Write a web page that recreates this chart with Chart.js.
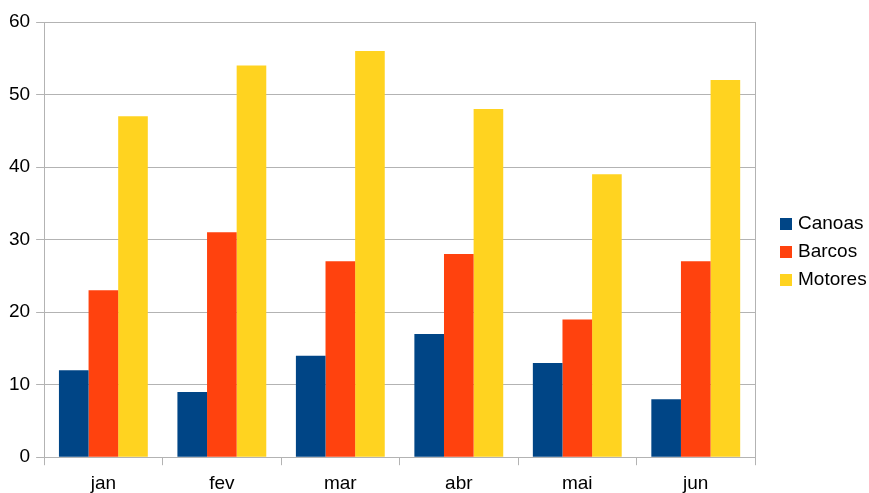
<!DOCTYPE html>
<html lang="pt">
<head>
<meta charset="UTF-8">
<title>Canoas, Barcos, Motores</title>
<script src="https://cdn.jsdelivr.net/npm/chart.js"></script>
<style>
    html, body { margin: 0; padding: 0; background: #fff; }
    #wrap { width: 869px; height: 493px; }
</style>
</head>
<body>
<div id="wrap"><canvas id="chart" width="869" height="493"></canvas></div>
<script>
const months = ['jan', 'fev', 'mar', 'abr', 'mai', 'jun'];
const canoas = [12, 9, 14, 17, 13, 8];
const barcos = [23, 31, 27, 28, 19, 27];
const motores = [47, 54, 56, 48, 39, 52];

const gridColor = '#b3b3b3';
const fontFamily = '"Liberation Sans", Arial, sans-serif';
const font = { family: fontFamily, size: 19 };

// right-hand frame line of the plot area + legend drawn to the right of it
const frameAndLegend = {
    id: 'frameAndLegend',
    afterDraw(chart) {
        const { ctx, chartArea } = chart;
        ctx.save();
        ctx.strokeStyle = gridColor;
        ctx.lineWidth = 1;
        ctx.beginPath();
        ctx.moveTo(Math.round(chartArea.right) + 0.5, chartArea.top);
        ctx.lineTo(Math.round(chartArea.right) + 0.5, chartArea.bottom);
        ctx.stroke();

        // legend
        const x = chartArea.right + 25;
        const rowH = 28;
        const sets = chart.data.datasets;
        let y = (chartArea.top + chartArea.bottom) / 2 - rowH * (sets.length - 1) / 2 + 12;
        ctx.font = '19px ' + fontFamily;
        ctx.textBaseline = 'middle';
        ctx.textAlign = 'left';
        sets.forEach(ds => {
            ctx.fillStyle = ds.backgroundColor;
            ctx.fillRect(x, Math.round(y - 6), 12, 12);
            ctx.fillStyle = '#000';
            ctx.fillText(ds.label, x + 18, y);
            y += rowH;
        });
        ctx.restore();
    }
};

new Chart(document.getElementById('chart'), {
    type: 'bar',
    data: {
        labels: months,
        datasets: [
            { label: 'Canoas', data: canoas, backgroundColor: '#004586' },
            { label: 'Barcos', data: barcos, backgroundColor: '#ff420e' },
            { label: 'Motores', data: motores, backgroundColor: '#ffd320' }
        ]
    },
    options: {
        responsive: false,
        animation: false,
        layout: { padding: { left: 3, right: 114, top: 22, bottom: -9 } },
        datasets: { bar: { barPercentage: 1, categoryPercentage: 0.75 } },
        plugins: {
            legend: { display: false },
            tooltip: { enabled: false }
        },
        scales: {
            x: {
                grid: { color: gridColor, drawOnChartArea: false, tickLength: 8, offset: true },
                border: { color: gridColor },
                ticks: { font: font, color: '#000', padding: 7 }
            },
            y: {
                min: 0,
                max: 60,
                ticks: { stepSize: 10, font: font, color: '#000', padding: 6 },
                grid: { color: gridColor, tickLength: 8 },
                border: { color: gridColor }
            }
        }
    },
    plugins: [frameAndLegend]
});
</script>
</body>
</html>
